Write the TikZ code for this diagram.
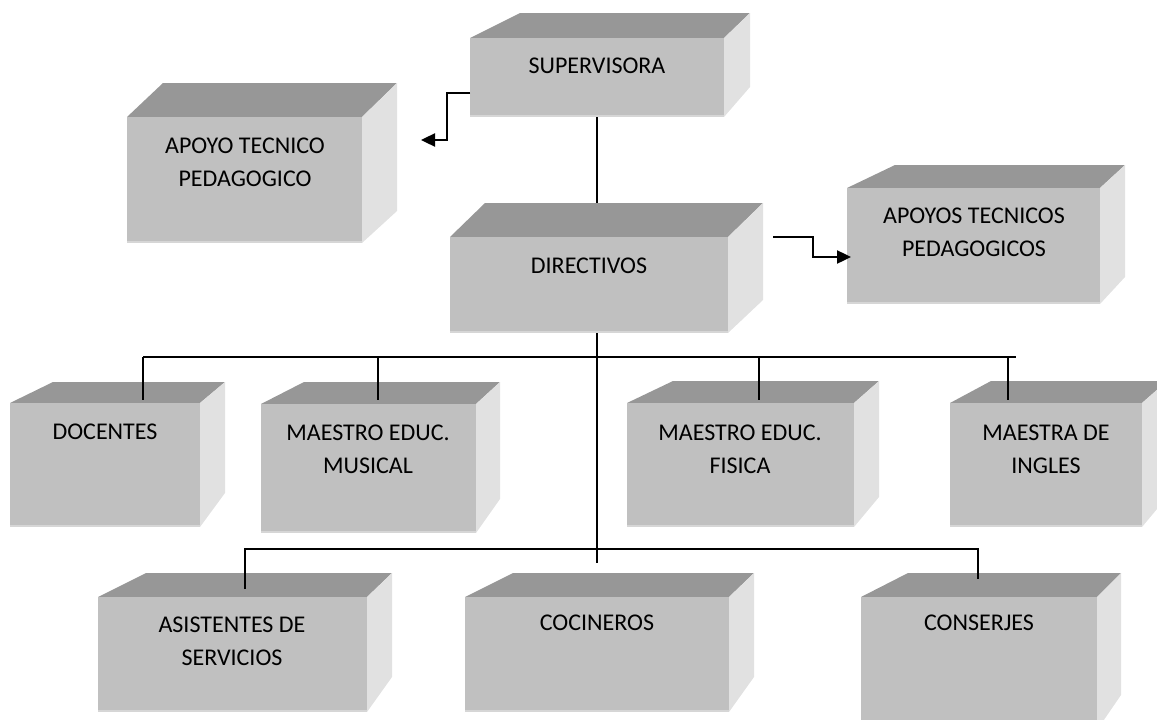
\documentclass[tikz,border=0pt]{standalone}
\usepackage{fontspec}
\setmainfont{Carlito}
\usetikzlibrary{arrows.meta}
\definecolor{frontc}{HTML}{C0C0C0}
\definecolor{topc}{HTML}{979797}
\definecolor{sidec}{HTML}{E1E1E1}
\definecolor{edgec}{HTML}{D6D6D6}
\tikzset{
  frontface/.style={fill=frontc, draw=none, inner sep=0pt, outer sep=0pt, anchor=north west},
  lbl/.style={font=\fontsize{24}{33}\selectfont, align=center, text=black, inner sep=0pt},
  conn/.style={draw=black, line width=1.6pt},
  arr/.style={draw=black, line width=2.4pt, -{Triangle[length=14pt,width=13pt]}},
}
% #1 name, #2 x1, #3 y1, #4 x2, #5 y2, #6 dl, #7 dr, #8 depth, #9 side-bottom rise
\newcommand\cubebox[9]{%
  \fill[topc] (#2,#3) -- (#2+#6,#3-#8) -- (#4+#7,#3-#8) -- (#4,#3) -- cycle;
  \fill[sidec] (#4,#3) -- (#4+#7,#3-#8) -- (#4+#7,#5-#9) -- (#4,#5) -- cycle;
  \node[frontface, minimum width={(#4-#2)*1pt}, minimum height={(#5-#3)*1pt}] (#1) at (#2,#3) {};
  \draw[edgec, line width=2pt] (#2,#5-1) -- (#4,#5-1);
}
\begin{document}
\begin{tikzpicture}[x=1pt, y=-1pt]
\useasboundingbox (0,0) rectangle (1157,720);
\begin{scope}
\clip (0,0) rectangle (1157,720);
% boxes
\cubebox{sup}{470}{38}{724}{117}{50}{26}{25}{30}
\cubebox{apo}{127}{117}{362}{243}{36}{35}{34}{32}
\cubebox{dir}{450}{237}{728}{333}{35}{35}{34}{33}
\cubebox{aps}{847}{188}{1100}{304}{48}{25}{23}{27}
\cubebox{doc}{10}{403}{200}{527}{43}{25}{21}{34}
\cubebox{mus}{261}{404}{476}{533}{43}{24}{22}{34}
\cubebox{fis}{627}{403}{854}{527}{46}{25}{22}{30}
\cubebox{ing}{950}{403}{1142}{527}{41}{25}{22}{30}
\cubebox{asi}{98}{597}{367}{712}{48}{25}{24}{35}
\cubebox{coc}{465}{597}{729}{712}{48}{25}{24}{35}
\cubebox{con}{861}{597}{1097}{730}{47}{24}{24}{35}
\end{scope}
% labels
\node[lbl] (supt) at (597,66) {SUPERVISORA};
\node[lbl] (apot) at (245,162) {APOYO TECNICO\\PEDAGOGICO};
\node[lbl] (dirt) at (589,266) {DIRECTIVOS};
\node[lbl] (apst) at (974,232) {APOYOS TECNICOS\\PEDAGOGICOS};
\node[lbl] (doct) at (105,432) {DOCENTES};
\node[lbl] (must) at (368,449) {MAESTRO EDUC.\\MUSICAL};
\node[lbl] (fist) at (740,449) {MAESTRO EDUC.\\FISICA};
\node[lbl] (ingt) at (1046,449) {MAESTRA DE\\INGLES};
\node[lbl] (asit) at (232,641) {ASISTENTES DE\\SERVICIOS};
\node[lbl] (coct) at (597,623) {COCINEROS};
\node[lbl] (cont) at (979,623) {CONSERJES};
% connector coordinates
\coordinate (vx) at (597,0);
\coordinate (dirtop) at (597,203);
\coordinate (trunkend) at (597,563);
\coordinate (b3l) at (143,357);
\coordinate (b3r) at (1016,357);
\coordinate (d3a) at (143,400);
\coordinate (t3b) at (378,357);
\coordinate (d3b) at (378,400);
\coordinate (t3c) at (759,357);
\coordinate (d3c) at (759,400);
\coordinate (t3d) at (1008,357);
\coordinate (d3d) at (1008,400);
\coordinate (b4l) at (245,549);
\coordinate (b4r) at (978,549);
\coordinate (d4a) at (245,589);
\coordinate (d4c) at (978,579);
\coordinate (a1s) at (470,93);
\coordinate (a1k) at (447,93);
\coordinate (a1m) at (447,140);
\coordinate (a1e) at (421,140);
\coordinate (a2s) at (773,237);
\coordinate (a2k) at (813,237);
\coordinate (a2m) at (813,257);
\coordinate (a2e) at (851,257);
% connectors
\draw[conn] (sup.south -| vx) -- (dirtop);
\draw[conn] (dir.south -| vx) -- (trunkend);
\draw[conn] (b3l) -- (b3r);
\draw[conn] (b3l) -- (d3a);
\draw[conn] (t3b) -- (d3b);
\draw[conn] (t3c) -- (d3c);
\draw[conn] (t3d) -- (d3d);
\draw[conn] (d4a) -- (b4l) -- (b4r) -- (d4c);
\draw[arr] (a1s) -- (a1k) -- (a1m) -- (a1e);
\draw[arr] (a2s) -- (a2k) -- (a2m) -- (a2e);
\end{tikzpicture}
\end{document}
